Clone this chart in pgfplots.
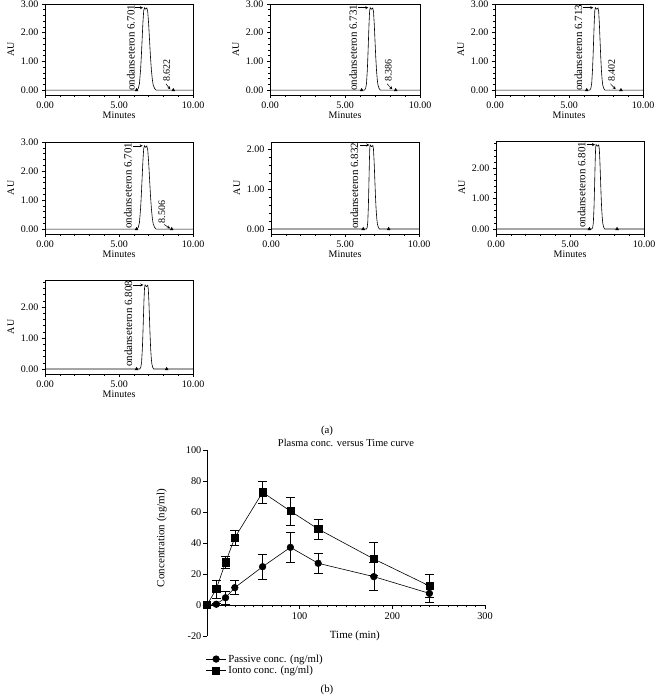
\documentclass[border=0pt]{standalone}
\usepackage{fontspec}
\setmainfont{Liberation Serif}
\usepackage{pgfplots}
\pgfplotsset{compat=1.18}
\usetikzlibrary{arrows.meta}

\pgfplotsset{
  chrom/.style={
    scale only axis, anchor=south west,
    width=148pt, height=93pt,
    xmin=0, xmax=10,
    xtick={0,5,10}, minor x tick num=4,
    ytick={0,1,2,3}, minor y tick num=4,
    tick align=outside, xtick pos=bottom, ytick pos=left,
    major tick length=3pt, minor tick length=1.8pt,
    /pgf/number format/fixed, /pgf/number format/fixed zerofill,
    /pgf/number format/precision=2,
    /pgf/number format/assume math mode=true,
    tick label style={font=\fontsize{10}{12}\selectfont},
    label style={font=\fontsize{10}{12}\selectfont},
    xlabel={Minutes}, ylabel={AU},
    xlabel style={yshift=3pt},
    axis line style={line width=0.6pt},
    every tick/.style={black, line width=0.5pt},
    clip=false,
  },
  peak/.style={black, line width=0.6pt, mark=none},
  tri/.style={only marks, mark=triangle*, mark size=1.7pt, black, mark options={fill=black}},
}
\tikzset{
  mainlab/.style={rotate=90, anchor=east, inner sep=0pt, font=\fontsize{11}{13}\selectfont},
  sublab/.style={rotate=90, anchor=west, inner sep=0pt, font=\fontsize{10}{12}\selectfont},
  arr/.style={-{Stealth[length=3pt,width=3pt]}, line width=0.5pt},
}

\begin{document}
\begin{tikzpicture}
\useasboundingbox (0pt,0pt) rectangle (655pt,700pt);

% ---------- Panel 1 ----------
\begin{axis}[chrom, at={(45pt,605pt)}, height=91pt, ymin=-0.17, ymax=3.0]
\addplot[peak] coordinates {(0,0) (6.2,0) (6.304,0.057) (6.382,0.23) (6.46,0.72) (6.512,1.21) (6.564,1.78) (6.616,2.35) (6.668,2.76) (6.72,2.87) (6.8,2.82) (6.88,2.86) (6.942,2.73) (7.004,2.30) (7.066,1.72) (7.128,1.15) (7.19,0.69) (7.252,0.37) (7.314,0.17) (7.407,0.057) (7.5,0) (10,0)};
\addplot[tri] coordinates {(6.19,0) (8.67,0)};
\node[mainlab] at (axis cs:5.8,2.98) {ondanseteron 6.701};
\draw[arr] (axis cs:6.08,2.87) -- (axis cs:6.62,2.87);
\node[sublab] at (axis cs:8.22,0.28) {8.622};
\draw[arr] (axis cs:8.17,0.22) -- (axis cs:8.46,0.03);
\end{axis}

% ---------- Panel 2 ----------
\begin{axis}[chrom, at={(270pt,605pt)}, width=150pt, height=91pt, ymin=-0.17, ymax=3.0]
\addplot[peak] coordinates {(0,0) (6.3,0) (6.376,0.057) (6.433,0.23) (6.49,0.72) (6.528,1.21) (6.566,1.78) (6.604,2.35) (6.642,2.76) (6.68,2.87) (6.765,2.82) (6.85,2.86) (6.9,2.73) (6.95,2.30) (7.0,1.72) (7.05,1.15) (7.1,0.69) (7.15,0.37) (7.2,0.17) (7.275,0.057) (7.35,0) (10,0)};
\addplot[tri] coordinates {(6.11,0) (8.38,0)};
\node[mainlab] at (axis cs:5.55,2.98) {ondanseteron 6.731};
\draw[arr] (axis cs:5.89,2.87) -- (axis cs:6.55,2.87);
\node[sublab] at (axis cs:7.89,0.28) {8.386};
\draw[arr] (axis cs:7.8,0.22) -- (axis cs:8.15,0.03);
\end{axis}

% ---------- Panel 3 ----------
\begin{axis}[chrom, at={(495pt,605pt)}, height=91pt, ymin=-0.17, ymax=3.0]
\addplot[peak] coordinates {(0,0) (6.4,0) (6.476,0.057) (6.533,0.23) (6.59,0.72) (6.628,1.21) (6.666,1.78) (6.704,2.35) (6.742,2.76) (6.78,2.87) (6.87,2.82) (6.96,2.86) (7.006,2.73) (7.052,2.30) (7.098,1.72) (7.144,1.15) (7.19,0.69) (7.236,0.37) (7.282,0.17) (7.351,0.057) (7.42,0) (10,0)};
\addplot[tri] coordinates {(6.2,0) (8.51,0)};
\node[mainlab] at (axis cs:5.63,2.98) {ondanseteron 6.713};
\draw[arr] (axis cs:5.92,2.87) -- (axis cs:6.64,2.87);
\node[sublab] at (axis cs:7.88,0.28) {8.402};
\draw[arr] (axis cs:7.8,0.22) -- (axis cs:8.15,0.03);
\end{axis}

% ---------- Panel 4 ----------
\begin{axis}[chrom, at={(45pt,466pt)}, height=92pt, ymin=-0.17, ymax=3.0]
\addplot[peak] coordinates {(0,0) (6.2,0) (6.304,0.057) (6.382,0.23) (6.46,0.72) (6.512,1.21) (6.564,1.78) (6.616,2.35) (6.668,2.76) (6.72,2.87) (6.8,2.82) (6.88,2.86) (6.942,2.73) (7.004,2.30) (7.066,1.72) (7.128,1.15) (7.19,0.69) (7.252,0.37) (7.314,0.17) (7.407,0.057) (7.5,0) (10,0)};
\addplot[tri] coordinates {(6.19,0) (8.56,0)};
\node[mainlab] at (axis cs:5.6,2.98) {ondanseteron 6.701};
\draw[arr] (axis cs:5.97,2.87) -- (axis cs:6.6,2.87);
\node[sublab] at (axis cs:7.9,0.2) {8.506};
\draw[arr] (axis cs:8.05,0.16) -- (axis cs:8.45,0.02);
\end{axis}

% ---------- Panel 5 ----------
\begin{axis}[chrom, at={(271pt,466pt)}, height=92pt, ymin=-0.125, ymax=2.175]
\addplot[peak] coordinates {(0,0) (6.45,0) (6.5,0.042) (6.5375,0.168) (6.575,0.525) (6.6,0.882) (6.625,1.302) (6.65,1.722) (6.675,2.016) (6.7,2.1) (6.79,2.06) (6.88,2.09) (6.924,1.995) (6.968,1.68) (7.012,1.26) (7.056,0.84) (7.1,0.504) (7.144,0.273) (7.188,0.126) (7.254,0.042) (7.32,0) (10,0)};
\addplot[tri] coordinates {(6.23,0) (7.95,0)};
\node[mainlab] at (axis cs:5.63,2.16) {ondanseteron 6.832};
\draw[arr] (axis cs:6.0,2.1) -- (axis cs:6.64,2.1);
\end{axis}

% ---------- Panel 6 ----------
\begin{axis}[chrom, at={(496pt,466pt)}, ymin=-0.165, ymax=2.89]
\addplot[peak] coordinates {(0,0) (6.48,0) (6.536,0.055) (6.578,0.222) (6.62,0.693) (6.648,1.163) (6.676,1.717) (6.704,2.271) (6.732,2.659) (6.76,2.77) (6.85,2.72) (6.94,2.76) (6.98,2.632) (7.02,2.216) (7.06,1.662) (7.1,1.108) (7.14,0.665) (7.18,0.36) (7.22,0.166) (7.28,0.055) (7.34,0) (10,0)};
\addplot[tri] coordinates {(6.31,0) (8.18,0)};
\node[mainlab] at (axis cs:5.79,2.87) {ondanseteron 6.801};
\draw[arr] (axis cs:6.13,2.77) -- (axis cs:6.69,2.77);
\end{axis}

% ---------- Panel 7 ----------
\begin{axis}[chrom, at={(45pt,326pt)}, height=94pt, ymin=-0.16, ymax=2.87]
\addplot[peak] coordinates {(0,0) (6.4,0) (6.472,0.054) (6.526,0.217) (6.58,0.678) (6.616,1.138) (6.652,1.68) (6.688,2.222) (6.724,2.602) (6.76,2.71) (6.85,2.66) (6.94,2.70) (6.98,2.575) (7.02,2.168) (7.06,1.626) (7.1,1.084) (7.14,0.65) (7.18,0.352) (7.22,0.163) (7.28,0.054) (7.34,0) (10,0)};
\addplot[tri] coordinates {(6.19,0) (8.22,0)};
\node[mainlab] at (axis cs:5.63,2.85) {ondanseteron 6.808};
\draw[arr] (axis cs:5.97,2.71) -- (axis cs:6.64,2.71);
\end{axis}

\node[font=\fontsize{10.8}{12}\selectfont] at (327pt,269pt) {(a)};

% ---------- Panel (b) ----------
\begin{axis}[
  at={(207pt,64pt)}, anchor=south west, scale only axis,
  width=278pt, height=186pt,
  xmin=0, xmax=300, ymin=-20, ymax=100,
  axis x line=middle, axis y line=left,
  axis line style={-, line width=0.7pt},
  xtick={100,200,300}, minor xtick={0,10,...,300},
  ytick={-20,0,20,40,60,80,100},
  tick align=outside, major tick length=4pt, minor tick length=2.3pt,
  every tick/.style={black, line width=0.6pt},
  hide obscured y ticks=false,
  /pgf/number format/assume math mode=true,
  tick label style={font=\fontsize{10.3}{12}\selectfont},
  yticklabel style={inner sep=1.5pt},
  xlabel={Time (min)},
  ylabel={Concentration (ng/ml)},
  xlabel style={at={(axis description cs:0.532,0.0)}, anchor=center, font=\fontsize{11}{13}\selectfont},
  ylabel style={at={(axis description cs:-0.163,0.527)}, anchor=center, font=\fontsize{11}{13}\selectfont},
  title={Plasma conc. versus Time curve},
  every axis title shift=0pt,
  title style={at={(axis description cs:0.5,1.04)}, anchor=center, font=\fontsize{10.5}{12}\selectfont},
  clip=false,
  legend style={at={(axis description cs:-0.005,-0.088)}, anchor=north west, draw=none, fill=none,
    font=\fontsize{10.8}{13}\selectfont, inner sep=0pt, row sep=-1.5pt, cells={anchor=west}},
  legend image code/.code={\draw[mark repeat=2,mark phase=2,#1] plot coordinates {(0pt,0pt) (10pt,0pt) (20pt,0pt)};},
]
\addplot[black, line width=0.6pt, mark=*, mark size=3.3pt, mark options={solid, fill=black},
  error bars/.cd, y dir=both, y explicit,
  error bar style={line width=0.6pt}, error mark options={rotate=90, mark size=4.5pt, line width=0.6pt}]
  coordinates {(0,0) +- (0,0) (10,0.5) +- (0,0.5) (20,4.7) +- (0,4.3) (30,11.2) +- (0,4.6) (60,24.7) +- (0,8) (90,37.2) +- (0,9.9) (120,26.9) +- (0,6.7) (180,18.3) +- (0,9.1) (240,7.5) +- (0,5.8)};
\addlegendentry{Passive conc. (ng/ml)}
\addplot[black, line width=0.6pt, mark=square*, mark size=3.6pt, mark options={solid, fill=black},
  error bars/.cd, y dir=both, y explicit,
  error bar style={line width=0.6pt}, error mark options={rotate=90, mark size=4.5pt, line width=0.6pt}]
  coordinates {(0,0) +- (0,0) (10,10.3) +- (0,5.8) (20,27.5) +- (0,3.6) (30,43.4) +- (0,4.6) (60,72.7) +- (0,6.8) (90,60.6) +- (0,9) (120,49) +- (0,6.5) (180,29.7) +- (0,10.5) (240,12.3) +- (0,7.5)};
\addlegendentry{Ionto conc. (ng/ml)}
\end{axis}

\node[font=\fontsize{10.8}{12}\selectfont] at (327pt,10pt) {(b)};
\end{tikzpicture}
\end{document}
